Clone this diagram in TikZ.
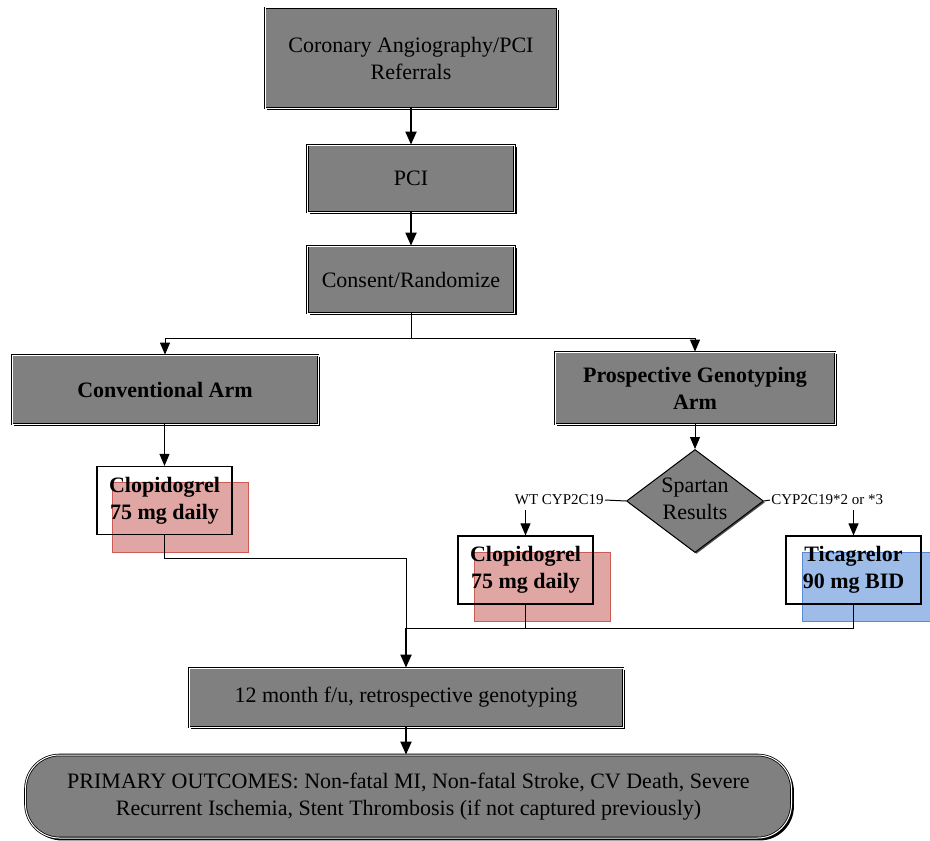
\documentclass[tikz,border=0pt]{standalone}
\usepackage{fontspec}
\setmainfont{Liberation Serif}
\usetikzlibrary{arrows.meta,shapes.geometric,shadows,backgrounds}
\definecolor{boxgrey}{HTML}{808080}
\definecolor{hlred}{HTML}{E0A6A3}
\definecolor{hlredline}{HTML}{CC5B55}
\definecolor{hlblue}{HTML}{9DBCE8}
\definecolor{hlblueline}{HTML}{5A8AD6}
\tikzset{
  boxshadow/.style={drop shadow={shadow xshift=1.2pt,shadow yshift=-1.2pt,fill=black,opacity=1}},
  greybox/.style={draw=black, fill=boxgrey, double=white, double distance=0.5pt,
    line width=0.4pt, align=center, inner sep=2pt, boxshadow,
    font=\fontsize{11}{13.5}\selectfont},
  drugbox/.style={draw=black, line width=0.6pt, align=center, inner sep=2pt,
    minimum width=67.5pt, minimum height=34pt, font=\fontsize{11}{13.5}\selectfont\bfseries},
  testbox/.style={diamond, draw=black, fill=boxgrey, line width=0.5pt,
    drop shadow={shadow xshift=0.7pt,shadow yshift=-0.7pt,fill=black!70,opacity=1},
    minimum width=68.5pt, minimum height=51.5pt, inner sep=0pt},
  branchlabel/.style={inner sep=0.5pt, font=\fontsize{7.5}{9}\selectfont},
  redmark/.style={fill=hlred, draw=hlredline, line width=0.5pt},
  bluemark/.style={fill=hlblue, draw=hlblueline, line width=0.5pt},
  thinline/.style={line width=0.5pt},
  thinarrow/.style={line width=0.5pt, -{Triangle[width=5pt,length=6pt]}},
  thickarrow/.style={line width=1pt, -{Triangle[width=5.5pt,length=6.5pt]}}
}
\begin{document}
\begin{tikzpicture}[x=0.5pt,y=-0.5pt,line cap=butt,line join=miter]
  \useasboundingbox (0,0) rectangle (930,840);
  % main stages
  \node[greybox, minimum width=146pt, minimum height=50pt] (referral) at (411,58)
    {Coronary Angiography/PCI\\Referrals};
  \node[greybox, minimum width=103.5pt, minimum height=33.5pt] (pci) at (411,178.5) {PCI};
  \node[greybox, minimum width=103.5pt, minimum height=33.5pt] (consent) at (411,279.5) {Consent/Randomize};
  \node[greybox, minimum width=153pt, minimum height=34.5pt, font=\fontsize{11}{13.5}\selectfont\bfseries]
    (conv) at (165,389.5) {Conventional Arm};
  \node[greybox, minimum width=140pt, minimum height=36pt, font=\fontsize{11}{13.5}\selectfont\bfseries]
    (prosp) at (695,388) {Prospective Genotyping\\Arm};
  % drugs
  \node[drugbox] (clopa) at (164.5,500.5) {Clopidogrel\\75 mg daily};
  \node[testbox] (spartan) at (695,501) {};
  \node[align=center, font=\fontsize{11}{13.5}\selectfont] at ([yshift=1pt]spartan) {Spartan\\Results};
  \node[branchlabel, anchor=east] (wt) at (605,500) {WT CYP2C19};
  \node[branchlabel, anchor=west] (var) at (770,500) {CYP2C19*2 or *3};
  \node[drugbox] (clopb) at (525.5,570) {Clopidogrel\\75 mg daily};
  \node[drugbox] (tica) at (853.5,570) {Ticagrelor\\90 mg BID};
  % follow-up and outcomes
  \node[greybox, minimum width=217pt, minimum height=29.5pt] (fu) at (406,697.5)
    {12 month f/u, retrospective genotyping};
  \node[greybox, rounded corners=17pt, minimum width=383pt, minimum height=41.5pt] (outcome) at (408.5,796.5)
    {PRIMARY OUTCOMES: Non-fatal MI, Non-fatal Stroke, CV Death, Severe\\
     Recurrent Ischemia, Stent Thrombosis (if not captured previously)};
  % highlights behind the drug boxes
  \begin{scope}[on background layer]
    \draw[redmark] ([shift={(8pt,-8.5pt)}]clopa.south west) rectangle ([shift={(8pt,-8.5pt)}]clopa.north east);
    \draw[redmark] ([shift={(8.5pt,-8.5pt)}]clopb.south west) rectangle ([shift={(8.5pt,-8.5pt)}]clopb.north east);
    \draw[bluemark] ([shift={(8.5pt,-8.5pt)}]tica.south west) rectangle ([shift={(8.5pt,-8.5pt)}]tica.north east);
  \end{scope}
  % connectors
  \coordinate (split) at (411,338);
  \coordinate (bend) at (406,558);
  \coordinate (join) at (406,628);
  \draw[thickarrow] (referral) -- (pci);
  \draw[thickarrow] (pci) -- (consent);
  \draw[thinline] (consent.south) -- (split);
  \draw[thinarrow] (split) -| (conv.north);
  \draw[thinarrow] (split) -| (prosp.north);
  \draw[thinarrow] (clopa.north |- conv.south) -- (clopa.north);
  \draw[thinarrow] (prosp.south) -- (spartan.north);
  \draw[thinline] (spartan.west) -- (wt.east);
  \draw[thinline] (spartan.east) -- (var.west);
  \draw[thinarrow] (clopb.north |- wt.south) ++(0,4) -- (clopb.north);
  \draw[thinarrow] (tica.north |- var.south) ++(0,4) -- (tica.north);
  \draw[thinline] (clopa.south) |- (bend) -- (join);
  \draw[thinline] (clopb.south) -- (clopb.south |- join);
  \draw[thinline] (tica.south) |- (join);
  \draw[thickarrow] (join) -- (fu.north);
  \draw[thickarrow] (fu.south) -- (fu.south |- outcome.north);
\end{tikzpicture}
\end{document}
